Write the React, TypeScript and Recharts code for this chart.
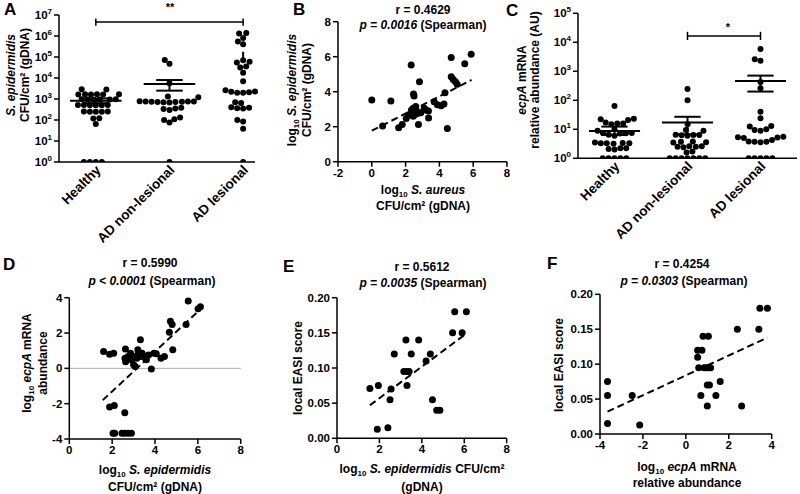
import React from 'react';
import { ScatterChart, Scatter, XAxis, YAxis, ReferenceLine } from 'recharts';

const W = 800;
const H = 494;
const FONT = '"Liberation Sans", Arial, Helvetica, sans-serif';

// ---------- data ----------
const groups = ['Healthy', 'AD non-lesional', 'AD lesional'];

// A: S. epidermidis CFU/cm2 per group
const sepiHealthy = [2900, 2850, 1700, 1650, 1660, 1680, 1640, 1690, 950, 960, 940, 970, 930, 955, 510, 520, 505, 515, 500, 525, 250, 255, 245, 252, 248, 120, 118, 65, 1, 1, 1, 1];
const sepiNonLesional = [72000, 48000, 5600, 1300, 1200, 780, 760, 740, 720, 730, 700, 750, 770, 710, 690, 380, 350, 330, 300, 130, 110, 100, 75, 1];
const sepiLesional = [1400000, 1300000, 800000, 550000, 400000, 70000, 60000, 55000, 35000, 32000, 18000, 7000, 2600, 2200, 2000, 2000, 2100, 2300, 700, 650, 400, 350, 380, 360, 85, 100, 38, 1];
const sepiMean = [830, 5200, 115000];
const sepiSemHi = [1070, 8000, 178000];
const sepiSemLo = [630, 2500, 60000];

// B: log10 S. aureus vs log10 S. epidermidis
const bAureus = [0, 0.64, 1.13, 1.59, 1.8, 2.04, 2.17, 2.33, 2.47, 2.5, 2.3, 2.35, 2.4, 2.45, 2.5, 2.55, 2.6, 2.65, 2.7, 2.45, 2.76, 2.82, 3.1, 3.2, 3.35, 3.36, 3.69, 3.88, 4.1, 4.27, 4.33, 4.47, 4.7, 4.7, 4.82, 4.95, 5.05, 5.5, 5.88, 2.6, 2.9];
const bSepi = [3.52, 2.04, 3.47, 1.94, 2.13, 2.47, 2.67, 5.52, 3.87, 3.75, 2.75, 2.95, 2.85, 3.05, 2.9, 2.7, 3.0, 2.85, 2.75, 2.6, 2.13, 4.57, 3.05, 2.95, 2.9, 2.5, 3.42, 3.25, 3.2, 3.3, 3.94, 1.9, 5.95, 4.85, 4.7, 4.57, 4.43, 5.6, 6.14, 3.15, 2.8];
const bFitX = [0, 5.9];
const bFitY = [1.77, 4.67];

// C: ecpA mRNA relative abundance per group
const ecpaHealthy = [63, 23, 22, 21, 16, 15, 17, 16, 10, 9, 7.5, 7.3, 7.4, 7.2, 6.5, 6, 3.4, 3.3, 3.3, 3.2, 3.5, 3.3, 2.2, 2.1, 2.0, 2.2, 1, 1, 1, 1, 1];
const ecpaNonLesional = [245, 100, 15, 9.5, 9, 6.5, 6.3, 6.2, 6.0, 6.4, 3.8, 3.7, 3.6, 3.5, 2.6, 2.5, 2.5, 2.4, 2.6, 1.7, 1.6, 1, 1, 1, 1, 1, 1, 1];
const ecpaLesional = [5900, 2600, 2300, 430, 260, 40, 24, 13, 12.5, 10, 9.5, 9, 5.3, 5.2, 5.0, 5.5, 4.3, 3.8, 3.7, 3.6, 3.7, 1, 1, 1, 1, 1];
const ecpaMean = [8.8, 17, 465];
const ecpaSemHi = [12.4, 27, 710];
const ecpaSemLo = [6.4, 6.7, 200];

// D: log10 S. epidermidis vs log10 ecpA
const dSepi = [1.6, 1.88, 2.07, 1.88, 2.1, 2.04, 2.12, 2.46, 2.6, 2.75, 2.9, 2.59, 2.62, 2.6, 2.63, 2.75, 2.86, 2.9, 3.0, 3.0, 3.08, 3.15, 3.2, 3.22, 3.32, 3.32, 3.4, 3.55, 3.6, 3.7, 3.83, 3.95, 4.06, 4.28, 4.44, 4.67, 4.72, 4.8, 4.83, 5.45, 5.55, 6.01, 6.12];
const dEcpa = [0.95, 0.8, 0.86, -2.19, -2.1, -3.68, -3.68, -3.68, -3.68, -3.68, -3.68, -2.51, 1.09, 0.57, 0.38, 0.67, 0.86, 0.48, 0.67, 0.2, 0.1, 0.57, 1.05, 0.86, 1.62, 0.67, 0.86, 0.57, 0.48, 0.76, -0.04, 0.86, 0.82, 0.57, 0.67, 2.04, 2.67, 2.48, 1.05, 2.48, 3.81, 3.37, 3.49];
const dFitX = [1.56, 5.97];
const dFitY = [-1.8, 3.18];

// E: log10 S. epidermidis vs local EASI
const eSepi = [1.55, 1.9, 1.95, 2.4, 2.5, 2.55, 2.7, 3.15, 3.25, 3.3, 3.4, 3.3, 3.5, 3.85, 4.2, 4.4, 4.5, 4.7, 4.85, 5.45, 5.55, 5.9, 6.1];
const eEasi = [0.071, 0.013, 0.075, 0.015, 0.055, 0.07, 0.12, 0.095, 0.14, 0.095, 0.095, 0.075, 0.12, 0.14, 0.11, 0.12, 0.055, 0.04, 0.04, 0.15, 0.18, 0.15, 0.18];
const eFitX = [1.55, 6.1];
const eFitY = [0.047, 0.149];

// F: log10 ecpA vs local EASI
const fEcpa = [-3.65, -3.65, -3.65, -2.5, -2.15, 0.55, 0.55, 0.6, 0.7, 0.75, 0.8, 0.85, 0.95, 1.0, 1.0, 1.05, 1.05, 1.1, 1.15, 1.4, 1.6, 2.4, 2.6, 3.4, 3.45, 3.8];
const fEasi = [0.075, 0.055, 0.015, 0.055, 0.013, 0.12, 0.11, 0.095, 0.055, 0.12, 0.14, 0.095, 0.095, 0.07, 0.04, 0.14, 0.095, 0.07, 0.095, 0.055, 0.075, 0.15, 0.04, 0.15, 0.18, 0.18];
const fFitX = [-3.65, 3.8];
const fFitY = [0.032, 0.138];

// ---------- helpers ----------
type Box = { x0: number; x1: number; y0: number; y1: number };
const YW = 50;
const XH = 40;
const marginFor = (b: Box) => ({ left: b.x0 - YW, right: W - b.x1, top: b.y0, bottom: H - b.y1 - XH });

// simple beeswarm: spread points of similar value sideways so they don't overlap
function swarm(values: number[], pxPerDecade: number, pxPerGroup: number, diam = 6): number[] {
  const ys = values.map((v) => Math.log10(v) * pxPerDecade);
  const order = ys.map((_, i) => i).sort((a, b) => ys[a] - ys[b]);
  const placed: { x: number; y: number }[] = [];
  const out = new Array(values.length).fill(0);
  for (const i of order) {
    const y = ys[i];
    const blocks: [number, number][] = [];
    for (const p of placed) {
      const dy = Math.abs(p.y - y);
      if (dy < diam) {
        const w = Math.sqrt(diam * diam - dy * dy);
        blocks.push([p.x - w, p.x + w]);
      }
    }
    const cands = [0, ...blocks.flat()].sort((a, b) => Math.abs(a) - Math.abs(b));
    let x = 0;
    for (const c of cands) {
      if (blocks.every(([lo, hi]) => c <= lo + 1e-6 || c >= hi - 1e-6)) {
        x = c;
        break;
      }
    }
    placed.push({ x, y });
    out[i] = x / pxPerGroup;
  }
  return out;
}

const groupPoints = (sets: number[][], pxDec: number, pxGroup: number) =>
  sets.flatMap((vals, g) => {
    const off = swarm(vals, pxDec, pxGroup);
    return vals.map((v, i) => ({ x: g + off[i], y: v }));
  });

const zip = (xs: number[], ys: number[]) => xs.map((x, i) => ({ x, y: ys[i] }));

const axisLine = { stroke: '#000', strokeWidth: 1.5 };
const tickLine = { stroke: '#000', strokeWidth: 1.5 };
const tickStyle = { fill: '#000', fontSize: 11.5, fontWeight: 700, fontFamily: FONT };

const dot = (r: number) => (p: any) => <circle cx={p.cx} cy={p.cy} r={r} fill="#000" />;

const PowTick = (props: any) => {
  const { x, y, payload } = props;
  const e = Math.round(Math.log10(payload.value));
  return (
    <text x={x} y={y} dy={4} textAnchor="end" fill="#000" fontSize={11.5} fontWeight={700} fontFamily={FONT}>
      10<tspan dy={-5} fontSize={8}>{e}</tspan>
    </text>
  );
};

const GroupTick = (props: any) => {
  const { x, y, payload } = props;
  return (
    <g transform={`translate(${x + 3},${y + 4}) rotate(-45)`}>
      <text x={0} y={0} dy={4} textAnchor="end" fill="#000" fontSize={13.5} fontWeight={700} fontFamily={FONT}>
        {groups[payload.value]}
      </text>
    </g>
  );
};

const meanSem = (means: number[], hi: number[], lo: number[], hw: number, cw: number) =>
  means.flatMap((m, g) => [
    <ReferenceLine key={`m${g}`} segment={[{ x: g - hw, y: m }, { x: g + hw, y: m }]} stroke="#000" strokeWidth={2} />,
    <ReferenceLine key={`h${g}`} segment={[{ x: g - cw, y: hi[g] }, { x: g + cw, y: hi[g] }]} stroke="#000" strokeWidth={2} />,
    <ReferenceLine key={`l${g}`} segment={[{ x: g - cw, y: lo[g] }, { x: g + cw, y: lo[g] }]} stroke="#000" strokeWidth={2} />,
    <ReferenceLine key={`v${g}`} segment={[{ x: g, y: lo[g] }, { x: g, y: hi[g] }]} stroke="#000" strokeWidth={2} />,
  ]);

const bracket = (g0: number, g1: number, y: number, yLo: number, yHi: number) => [
  <ReferenceLine key="b" segment={[{ x: g0, y }, { x: g1, y }]} stroke="#000" strokeWidth={1.5} />,
  <ReferenceLine key="b0" segment={[{ x: g0, y: yLo }, { x: g0, y: yHi }]} stroke="#000" strokeWidth={1.5} />,
  <ReferenceLine key="b1" segment={[{ x: g1, y: yLo }, { x: g1, y: yHi }]} stroke="#000" strokeWidth={1.5} />,
];

const fitLine = (xs: number[], ys: number[]) => (
  <ReferenceLine
    segment={[{ x: xs[0], y: ys[0] }, { x: xs[1], y: ys[1] }]}
    stroke="#000"
    strokeWidth={2}
    strokeDasharray="7 4"
  />
);

const Layer = ({ children }: { children: React.ReactNode }) => (
  <div style={{ position: 'absolute', left: 0, top: 0 }}>{children}</div>
);

// ---------- panels ----------
const boxA: Box = { x0: 59, x1: 255, y0: 15, y1: 162 };
const boxB: Box = { x0: 338, x1: 507, y0: 21.7, y1: 161.7 };
const boxC: Box = { x0: 578, x1: 797, y0: 13.3, y1: 158.3 };
const boxD: Box = { x0: 69.3, x1: 240.7, y0: 297.7, y1: 439 };
const boxE: Box = { x0: 337, x1: 506.7, y0: 297.7, y1: 438.3 };
const boxF: Box = { x0: 600, x1: 771.7, y0: 294.3, y1: 434 };

const GroupPanel = ({ box, sets, means, hi, lo, yMax, pxDec, xMax, br }: any) => {
  const data = groupPoints(sets, pxDec, 74);
  const ticks = [] as number[];
  for (let v = 1; v <= yMax; v *= 10) ticks.push(v);
  return (
    <Layer>
      <ScatterChart width={W} height={H} margin={marginFor(box)}>
        <XAxis
          type="number"
          dataKey="x"
          domain={[-0.5, xMax]}
          ticks={[0, 1, 2]}
          interval={0}
          height={XH}
          axisLine={axisLine}
          tickLine={false}
          tickSize={0}
          tick={<GroupTick />}
        />
        <YAxis
          type="number"
          dataKey="y"
          scale="log"
          domain={[1, yMax]}
          ticks={ticks}
          interval={0}
          width={YW}
          axisLine={axisLine}
          tickLine={tickLine}
          tickSize={5}
          tick={<PowTick />}
          allowDataOverflow
        />
        <Scatter data={data} shape={dot(3)} isAnimationActive={false} />
        {meanSem(means, hi, lo, 0.35, 0.18)}
        {bracket(br[0], br[1], br[2], br[3], br[4])}
      </ScatterChart>
    </Layer>
  );
};

const XYPanel = ({ box, xs, ys, xDom, xTicks, yDom, yTicks, yFmt, fit, zero }: any) => (
  <Layer>
    <ScatterChart width={W} height={H} margin={marginFor(box)}>
      <XAxis
        type="number"
        dataKey="x"
        domain={xDom}
        ticks={xTicks}
        interval={0}
        height={XH}
        axisLine={axisLine}
        tickLine={tickLine}
        tickSize={5}
        tick={tickStyle}
      />
      <YAxis
        type="number"
        dataKey="y"
        domain={yDom}
        ticks={yTicks}
        interval={0}
        width={YW}
        axisLine={axisLine}
        tickLine={tickLine}
        tickSize={5}
        tick={tickStyle}
        tickFormatter={yFmt}
      />
      {zero && <ReferenceLine y={0} stroke="#aaa" strokeWidth={1} />}
      <Scatter data={zip(xs, ys)} shape={dot(3.5)} isAnimationActive={false} />
      {fitLine(fit[0], fit[1])}
    </ScatterChart>
  </Layer>
);

// ---------- text ----------
const T = (p: any) => <text fill="#000" fontFamily={FONT} fontWeight={700} fontSize={12} textAnchor="middle" {...p} />;
const Rot = ({ x, y, children, size = 12 }: any) => (
  <text transform={`translate(${x},${y}) rotate(-90)`} fill="#000" fontFamily={FONT} fontWeight={700} fontSize={size} textAnchor="middle">
    {children}
  </text>
);
const Log10 = () => (
  <>
    log<tspan fontSize={8} dy={3}>10</tspan>
    <tspan dy={-3}> </tspan>
  </>
);
const I = ({ children }: any) => <tspan fontStyle="italic">{children}</tspan>;
const Letter = ({ x, y, c }: any) => (
  <text x={x} y={y} fill="#000" fontFamily={FONT} fontWeight={700} fontSize={17}>
    {c}
  </text>
);

const Texts = () => (
  <svg width={W} height={H} style={{ position: 'absolute', left: 0, top: 0 }}>
    {/* A */}
    <Letter x={4} y={15} c="A" />
    <T x={170} y={11} fontSize={11}>**</T>
    <Rot x={15} y={75}><I>S. epidermidis</I></Rot>
    <Rot x={29} y={75}>CFU/cm² (gDNA)</Rot>

    {/* B */}
    <Letter x={293} y={15} c="B" />
    <T x={423} y={14}>r = 0.4629</T>
    <T x={423} y={29}><I>p = 0.0016</I> (Spearman)</T>
    <Rot x={296} y={90}><Log10 /><I>S. epidermidis</I></Rot>
    <Rot x={311} y={90}>CFU/cm² (gDNA)</Rot>
    <T x={423} y={194}><Log10 /><I>S. aureus</I></T>
    <T x={423} y={210}>CFU/cm² (gDNA)</T>

    {/* C */}
    <Letter x={506} y={16} c="C" />
    <T x={728} y={31} fontSize={11}>*</T>
    <Rot x={526} y={80}><I>ecpA</I> mRNA</Rot>
    <Rot x={539} y={80}>relative abundance (AU)</Rot>

    {/* D */}
    <Letter x={3} y={270} c="D" />
    <T x={150} y={267}>r = 0.5990</T>
    <T x={152} y={285}><I>p &lt; 0.0001</I> (Spearman)</T>
    <Rot x={31} y={363}><Log10 /><I>ecpA</I> mRNA</Rot>
    <Rot x={47} y={363}>abundance</Rot>
    <T x={155} y={474}><Log10 /><I>S. epidermidis</I></T>
    <T x={155} y={491}>CFU/cm² (gDNA)</T>

    {/* E */}
    <Letter x={283} y={272} c="E" />
    <T x={422} y={271}>r = 0.5612</T>
    <T x={423} y={287}><I>p = 0.0035</I> (Spearman)</T>
    <Rot x={302} y={368}>local EASI score</Rot>
    <T x={422} y={473}><Log10 /><I>S. epidermidis</I> CFU/cm²</T>
    <T x={422} y={491}>(gDNA)</T>

    {/* F */}
    <Letter x={547} y={269} c="F" />
    <T x={682} y={268}>r = 0.4254</T>
    <T x={684} y={285}><I>p = 0.0303</I> (Spearman)</T>
    <Rot x={563} y={365}>local EASI score</Rot>
    <T x={687} y={471}><Log10 /><I>ecpA</I> mRNA</T>
    <T x={687} y={487}>relative abundance</T>
  </svg>
);

const fmt2 = (v: number) => v.toFixed(2);

export default function App() {
  return (
    <div style={{ position: 'absolute', left: 0, top: 0, width: W, height: H, background: '#fff', overflow: 'hidden' }}>
      <GroupPanel
        box={boxA}
        sets={[sepiHealthy, sepiNonLesional, sepiLesional]}
        means={sepiMean}
        hi={sepiSemHi}
        lo={sepiSemLo}
        yMax={1e7}
        pxDec={21}
        xMax={2.15}
        br={[0, 2, 4.6e6, 3.1e6, 6.8e6]}
      />
      <XYPanel
        box={boxB}
        xs={bAureus}
        ys={bSepi}
        xDom={[-2, 8]}
        xTicks={[-2, 0, 2, 4, 6, 8]}
        yDom={[0, 8]}
        yTicks={[0, 2, 4, 6, 8]}
        fit={[bFitX, bFitY]}
      />
      <GroupPanel
        box={boxC}
        sets={[ecpaHealthy, ecpaNonLesional, ecpaLesional]}
        means={ecpaMean}
        hi={ecpaSemHi}
        lo={ecpaSemLo}
        yMax={1e5}
        pxDec={29}
        xMax={2.5}
        br={[1, 2, 1.65e4, 1.2e4, 2.3e4]}
      />
      <XYPanel
        box={boxD}
        xs={dSepi}
        ys={dEcpa}
        xDom={[0, 8]}
        xTicks={[0, 2, 4, 6, 8]}
        yDom={[-4, 4]}
        yTicks={[-4, -2, 0, 2, 4]}
        fit={[dFitX, dFitY]}
        zero
      />
      <XYPanel
        box={boxE}
        xs={eSepi}
        ys={eEasi}
        xDom={[0, 8]}
        xTicks={[0, 2, 4, 6, 8]}
        yDom={[0, 0.2]}
        yTicks={[0, 0.05, 0.1, 0.15, 0.2]}
        yFmt={fmt2}
        fit={[eFitX, eFitY]}
      />
      <XYPanel
        box={boxF}
        xs={fEcpa}
        ys={fEasi}
        xDom={[-4, 4]}
        xTicks={[-4, -2, 0, 2, 4]}
        yDom={[0, 0.2]}
        yTicks={[0, 0.05, 0.1, 0.15, 0.2]}
        yFmt={fmt2}
        fit={[fFitX, fFitY]}
      />
      <Texts />
    </div>
  );
}
